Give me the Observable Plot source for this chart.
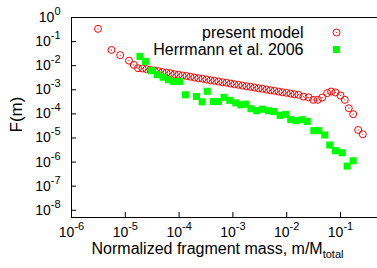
<!DOCTYPE html>
<html><head><meta charset="utf-8">
<script src="https://cdn.jsdelivr.net/npm/d3@7"></script>
<script src="https://cdn.jsdelivr.net/npm/@observablehq/plot@0.6"></script>
<style>
html,body{margin:0;padding:0;overflow:hidden;background:#fff;width:377px;height:268px}
</style></head><body><div id="chart"></div>
<script>
// log10 of normalized fragment mass and of F(m)
const modelLogM = [
  -5.507, -5.257, -5.095, -4.931, -4.842, -4.764,
  -4.680, -4.606, -4.532, -4.457, -4.383, -4.309, -4.234, -4.160, -4.086, -4.011,
  -3.937, -3.862, -3.788, -3.714, -3.639, -3.565, -3.491, -3.416, -3.342, -3.268,
  -3.193, -3.119, -3.045, -2.970, -2.896, -2.822, -2.747, -2.673, -2.599, -2.524,
  -2.450, -2.375, -2.301, -2.227, -2.152, -2.078, -2.004, -1.929, -1.855, -1.781,
  -1.688, -1.595, -1.507, -1.422, -1.340, -1.247, -1.173, -1.093, -1.000, -0.920, -0.846, -0.764, -0.671, -0.586
];
const modelLogF = [
  -0.471, -1.346, -1.563, -1.792, -1.967, -2.104,
  -2.117, -2.146, -2.175, -2.200, -2.229, -2.263, -2.292, -2.317, -2.354, -2.375,
  -2.408, -2.429, -2.458, -2.492, -2.521, -2.542, -2.575, -2.604, -2.625, -2.658,
  -2.688, -2.708, -2.742, -2.771, -2.792, -2.825, -2.854, -2.875, -2.908, -2.938,
  -2.958, -2.992, -3.021, -3.042, -3.075, -3.104, -3.125, -3.158, -3.188, -3.208,
  -3.283, -3.313, -3.417, -3.417, -3.321, -3.138, -3.071, -3.113, -3.238, -3.417, -3.763, -4.013, -4.667, -4.846
];
const herrmannLogM = [
  -4.727, -4.625, -4.513, -4.407, -4.294, -4.197, -4.099, -3.993, -3.881, -3.677,
  -3.571, -3.478, -3.364, -3.268, -3.165, -3.058, -2.946, -2.853, -2.760, -2.664,
  -2.556, -2.455, -2.338, -2.236, -2.121, -2.022, -1.924, -1.818, -1.712, -1.619,
  -1.496, -1.403, -1.292, -1.199, -1.093, -0.968, -0.876, -0.764
];
const herrmannLogF = [
  -1.613, -1.821, -2.208, -2.375, -2.479, -2.583, -2.654, -2.654, -3.208, -3.279,
  -3.500, -3.063, -3.488, -3.488, -3.313, -3.438, -3.542, -3.625, -3.596, -3.783,
  -3.867, -3.804, -3.867, -3.904, -4.063, -4.021, -4.238, -4.279, -4.242, -4.313,
  -4.696, -4.696, -4.875, -5.292, -5.529, -5.613, -6.167, -5.946
];
const xTickExps = [-6, -5, -4, -3, -2, -1];
const yTickExps = [0, -1, -2, -3, -4, -5, -6, -7, -8];
const legendLabels = ["present model", "Herrmann et al. 2006"];
const xTitle = "Normalized fragment mass, m/M_total";
const yTitle = "F(m)";

const model = modelLogM.map((lm, i) => ({m: 10 ** lm, F: 10 ** modelLogF[i]}));
const herrmann = herrmannLogM.map((lm, i) => ({m: 10 ** lm, F: 10 ** herrmannLogF[i]}));
const xTicks = xTickExps.map(e => 10 ** e);
const yTicks = yTickExps.map(e => 10 ** e);
const xMin = 1e-6, xMax = 10 ** -0.312, yMin = 10 ** -8.3, yMax = 1;
const red = "#ff0000", green = "#00ff00";
const expFmt = d => "10^" + Math.round(Math.log10(d));

const svg = Plot.plot({
  width: 377, height: 268,
  marginLeft: 71, marginRight: 0, marginTop: 17, marginBottom: 51,
  style: {fontFamily: "'Liberation Sans', Arial, sans-serif", background: "white", color: "black", overflow: "visible"},
  x: {type: "log", domain: [xMin, xMax], axis: null},
  y: {type: "log", domain: [yMin, yMax], axis: null},
  marks: [
    Plot.ruleY([yMax, yMin], {stroke: "black", strokeWidth: 1}),
    Plot.ruleX([xMin], {stroke: "black", strokeWidth: 1}),
    Plot.ruleX(xTicks, {x: d => d, insetTop: 195, stroke: "black"}),
    Plot.ruleY(yTicks, {y: d => d, insetRight: 301, stroke: "black"}),
    Plot.axisX(xTicks, {tickSize: 0, tickPadding: 10, fontSize: 14, tickFormat: expFmt, label: null}),
    Plot.axisY(yTicks, {tickSize: 0, tickPadding: 11, fontSize: 14, tickFormat: expFmt, label: null}),
    Plot.text([xTitle], {frameAnchor: "bottom", dx: -7, dy: 36, fontSize: 16, textAnchor: "middle"}),
    Plot.text([yTitle], {frameAnchor: "left", dx: -55, dy: -3, rotate: -90, fontSize: 17, textAnchor: "middle"}),
    Plot.dot(model, {x: "m", y: "F", r: 3.5, stroke: red, strokeWidth: 1, fill: "none"}),
    Plot.dot(model, {x: "m", y: "F", r: 0.6, fill: red, stroke: "none"}),
    Plot.dot(herrmann, {x: "m", y: "F", r: 4, symbol: "square", fill: green, stroke: "none"}),
    Plot.text([legendLabels[0]], {frameAnchor: "top-left", dx: 232, dy: 15, fontSize: 16, textAnchor: "end", lineAnchor: "middle"}),
    Plot.text([legendLabels[1]], {frameAnchor: "top-left", dx: 232, dy: 32, fontSize: 16, textAnchor: "end", lineAnchor: "middle"}),
    Plot.dot([0], {frameAnchor: "top-left", dx: 265, dy: 15, r: 3.5, stroke: red, strokeWidth: 1, fill: "none"}),
    Plot.dot([0], {frameAnchor: "top-left", dx: 265, dy: 15, r: 0.6, fill: red, stroke: "none"}),
    Plot.dot([0], {frameAnchor: "top-left", dx: 265, dy: 32, r: 4, symbol: "square", fill: green, stroke: "none"})
  ]
});

// superscripts for tick labels, subscript for the x title
d3.select(svg).selectAll("text").each(function () {
  const t = this.textContent;
  let m = t.match(/^10\^(-?\d+)$/);
  if (m) {
    this.textContent = "10";
    d3.select(this).append("tspan").attr("dy", -7).attr("font-size", 11).text(m[1]);
    return;
  }
  m = t.match(/^(.*)_(\w+)$/);
  if (m) {
    this.textContent = m[1];
    d3.select(this).append("tspan").attr("dy", 4).attr("font-size", 11).text(m[2]);
  }
});

document.getElementById("chart").appendChild(svg);
</script>
</body></html>
